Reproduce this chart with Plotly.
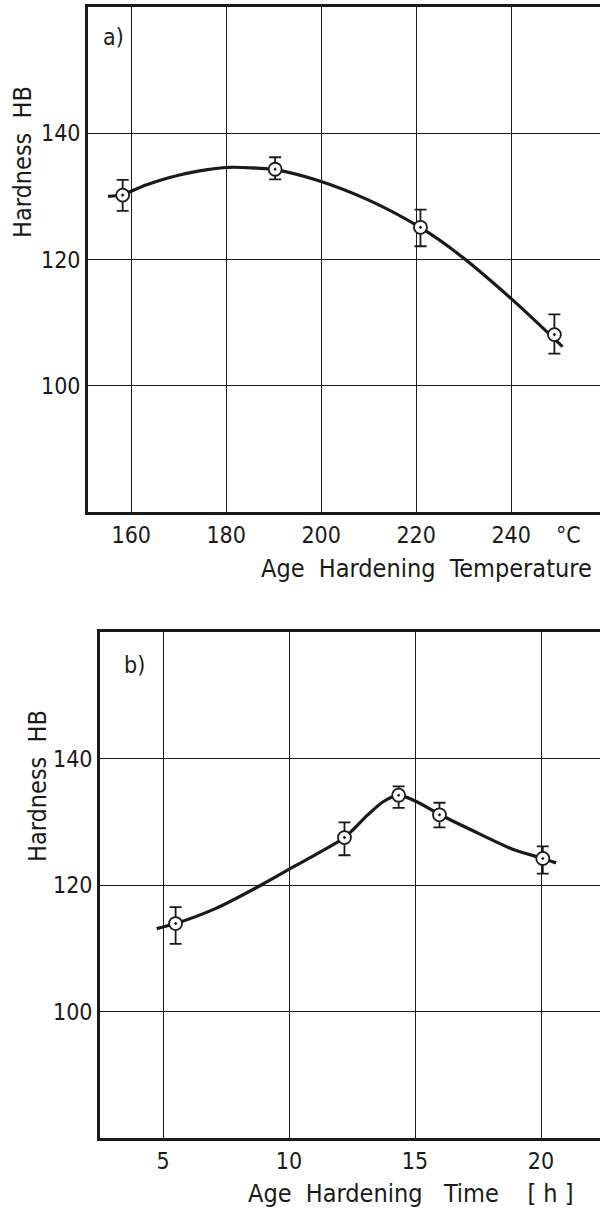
import plotly.graph_objects as go

# ---------------- data ----------------
# panel a: hardness vs age hardening temperature
temp_pts = [158.2, 190.3, 220.9, 249.1]
hard_a_pts = [130.2, 134.3, 125.1, 108.1]
hard_a_err_plus = [2.4, 1.9, 2.8, 3.2]
hard_a_err_minus = [2.5, 1.6, 3.0, 3.0]
temp_curve = [155.1, 158.2, 163.1, 168.1, 174.1, 180.5, 190.3, 199, 210, 221, 229, 240, 250.8]
hard_a_curve = [130.0, 130.3, 131.8, 133.0, 134.0, 134.6, 134.2, 132.6, 129.4, 125.0, 120.8, 113.8, 106.2]
temp_ticks = [160, 180, 200, 220, 240]

# panel b: hardness vs age hardening time
time_pts = [5.5, 12.2, 14.35, 15.97, 20.07]
hard_b_pts = [113.9, 127.5, 134.2, 131.1, 124.2]
hard_b_err_plus = [2.6, 2.4, 1.4, 1.9, 1.9]
hard_b_err_minus = [3.2, 2.8, 2.0, 2.0, 2.4]
time_curve = [4.75, 5.5, 7.1, 8.9, 10.1, 12.2, 13.1, 13.75, 14.35, 15.05, 16.0, 17.6, 18.9, 20.07, 20.6]
hard_b_curve = [113.1, 113.9, 116.3, 120.0, 122.7, 127.5, 131.0, 133.2, 134.2, 133.2, 131.1, 128.0, 125.6, 124.2, 123.5]
time_ticks = [5, 10, 15, 20]

hard_ticks = [100, 120, 140]

# ---------------- styling ----------------
W, H = 600, 1209
INK = "#1a1a1a"
FONT = "DejaVu Sans Condensed, Liberation Sans Narrow, Roboto, DejaVu Sans, sans-serif"


def px_x(p):
    return p / W


def px_y(p):
    return 1 - p / H


fig = go.Figure()

# curves
fig.add_trace(go.Scatter(x=temp_curve, y=hard_a_curve, mode="lines",
                         line=dict(color=INK, width=3.2, shape="spline", smoothing=0.8),
                         xaxis="x", yaxis="y", hoverinfo="skip"))
fig.add_trace(go.Scatter(x=time_curve, y=hard_b_curve, mode="lines",
                         line=dict(color=INK, width=3.2, shape="spline", smoothing=0.7),
                         xaxis="x2", yaxis="y2", hoverinfo="skip"))

# points with error bars
marker_style = dict(symbol="circle-dot", size=13, color="white",
                    line=dict(color=INK, width=1.8))
fig.add_trace(go.Scatter(x=temp_pts, y=hard_a_pts, mode="markers", marker=marker_style,
                         error_y=dict(type="data", symmetric=False, array=hard_a_err_plus,
                                      arrayminus=hard_a_err_minus, color=INK,
                                      thickness=1.8, width=6),
                         xaxis="x", yaxis="y"))
fig.add_trace(go.Scatter(x=time_pts, y=hard_b_pts, mode="markers", marker=marker_style,
                         error_y=dict(type="data", symmetric=False, array=hard_b_err_plus,
                                      arrayminus=hard_b_err_minus, color=INK,
                                      thickness=1.8, width=6),
                         xaxis="x2", yaxis="y2"))

axis_common = dict(showgrid=True, gridcolor=INK, gridwidth=1.4, zeroline=False,
                   showline=True, linecolor=INK, linewidth=2.8, ticks="",
                   tickfont=dict(family=FONT, size=23, color=INK), automargin=False,
                   fixedrange=True)

fig.update_layout(
    width=W, height=H,
    margin=dict(l=0, r=0, t=0, b=0),
    paper_bgcolor="white", plot_bgcolor="white",
    showlegend=False,
    xaxis=dict(axis_common, domain=[px_x(88), 1], range=[150.9, 258.7],
               tickvals=temp_ticks, mirror=True, anchor="y", ticklabelstandoff=0),
    yaxis=dict(axis_common, domain=[px_y(512), px_y(7)], range=[80, 160],
               tickvals=hard_ticks, anchor="x", ticklabelstandoff=0),
    xaxis2=dict(axis_common, domain=[px_x(100), 1], range=[2.5, 22.34],
                tickvals=time_ticks, mirror=True, anchor="y2", ticklabelstandoff=0),
    yaxis2=dict(axis_common, domain=[px_y(1138), px_y(632)], range=[80, 160],
                tickvals=hard_ticks, anchor="x2", ticklabelstandoff=0),
)

ann_font = dict(family=FONT, size=25, color=INK)
small_font = dict(family=FONT, size=23, color=INK)
annotations = [
    dict(text="a)", x=px_x(101), y=px_y(37), xanchor="left", yanchor="middle", font=small_font),
    dict(text="b)", x=px_x(122), y=px_y(665), xanchor="left", yanchor="middle", font=small_font),
    dict(text="°C", x=px_x(568), y=px_y(535), xanchor="center", yanchor="middle", font=small_font),
    dict(text="Age  Hardening  Temperature", x=px_x(594), y=px_y(568),
         xanchor="right", yanchor="middle"),
    dict(text="Age  Hardening   Time    [ h ]", x=px_x(576), y=px_y(1193),
         xanchor="right", yanchor="middle"),
    dict(text="Hardness  HB", x=px_x(23), y=px_y(162), xanchor="center",
         yanchor="middle", textangle=-90),
    dict(text="Hardness  HB", x=px_x(37), y=px_y(786), xanchor="center",
         yanchor="middle", textangle=-90),
]
for a in annotations:
    a.setdefault("font", ann_font)
    a.update(xref="paper", yref="paper", showarrow=False)
fig.update_layout(annotations=annotations)

fig.write_html("out.html")
